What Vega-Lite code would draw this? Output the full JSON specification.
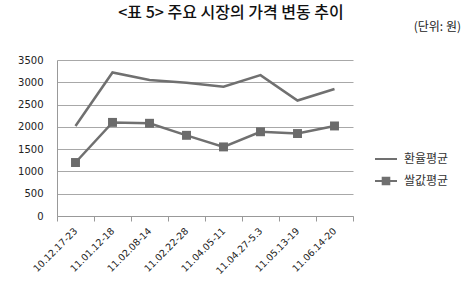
{
  "$schema": "https://vega.github.io/schema/vega-lite/v6.json",
  "padding": {"left": 17, "top": 5, "right": 0, "bottom": 0},
  "background": "white",
  "title": {"text": "<표 5> 주요 시장의 가격 변동 추이", "font": "Noto Sans CJK KR", "fontSize": 16, "fontWeight": 500, "color": "#111", "anchor": "middle", "frame": "group", "dx": 26, "offset": 0},
  "config": {
    "view": {"stroke": null},
    "concat": {"spacing": 0},
    "axis": {"labelFont": "DejaVu Sans", "labelFontSize": 10, "labelColor": "#222", "domainColor": "#999", "tickColor": "#999", "gridColor": "#a8a8a8", "title": null}
  },
  "vconcat": [
    {
      "width": 296,
      "height": 156,
      "title": {"text": "(단위: 원)", "anchor": "end", "frame": "group", "dx": 108, "fontSize": 12, "font": "Noto Sans CJK KR", "fontWeight": "normal", "color": "#222", "offset": 21},
      "data": {"values": [
        {"date": "10.12.17-23", "series": "환율평균", "value": 2020},
        {"date": "11.01.12-18", "series": "환율평균", "value": 3220},
        {"date": "11.02.08-14", "series": "환율평균", "value": 3050},
        {"date": "11.02.22-28", "series": "환율평균", "value": 2990},
        {"date": "11.04.05-11", "series": "환율평균", "value": 2900},
        {"date": "11.04.27-5.3", "series": "환율평균", "value": 3160},
        {"date": "11.05.13-19", "series": "환율평균", "value": 2590},
        {"date": "11.06.14-20", "series": "환율평균", "value": 2850},
        {"date": "10.12.17-23", "series": "쌀값평균", "value": 1200},
        {"date": "11.01.12-18", "series": "쌀값평균", "value": 2100},
        {"date": "11.02.08-14", "series": "쌀값평균", "value": 2080},
        {"date": "11.02.22-28", "series": "쌀값평균", "value": 1810},
        {"date": "11.04.05-11", "series": "쌀값평균", "value": 1550},
        {"date": "11.04.27-5.3", "series": "쌀값평균", "value": 1890},
        {"date": "11.05.13-19", "series": "쌀값평균", "value": 1850},
        {"date": "11.06.14-20", "series": "쌀값평균", "value": 2020}
      ]},
      "encoding": {
        "x": {"field": "date", "type": "nominal", "sort": null,
          "scale": {"type": "band", "paddingInner": 0, "paddingOuter": 0},
          "axis": {"labelAngle": -45, "labelAlign": "right", "labelBaseline": "middle", "tickBand": "extent", "tickSize": 5, "labelPadding": 8, "grid": false, "labelFont": "DejaVu Sans", "labelFontSize": 9.5}},
        "y": {"field": "value", "type": "quantitative",
          "scale": {"domain": [0, 3500], "nice": false},
          "axis": {"values": [0, 500, 1000, 1500, 2000, 2500, 3000, 3500], "format": "d", "ticks": false, "labelPadding": 14, "grid": true, "labelFont": "DejaVu Sans", "labelFontSize": 10}}
      },
      "layer": [
        {
          "mark": {"type": "line", "strokeWidth": 2.5},
          "encoding": {
            "color": {"field": "series", "type": "nominal",
              "scale": {"domain": ["환율평균", "쌀값평균"], "range": ["#707070", "#707070"]},
              "legend": {"orient": "none", "legendX": 317, "legendY": 87, "title": null, "padding": 0,
                "labelFont": "Noto Sans CJK KR", "labelFontSize": 12, "labelColor": "#333", "labelOffset": 6,
                "symbolSize": 484, "rowPadding": 4,
                "encode": {"symbols": {"update": {
                  "shape": {"signal": "datum.value === '쌀값평균' ? 'M-1,0H1M-0.3,-0.3H0.3V0.3H-0.3Z' : 'M-1,0H1'"},
                  "fill": {"value": "#707070"},
                  "stroke": {"value": "#707070"},
                  "strokeWidth": {"value": 2},
                  "opacity": {"value": 1}
                }}}}
            }
          }
        },
        {
          "transform": [{"filter": "datum.series === '쌀값평균'"}],
          "mark": {"type": "point", "shape": "square", "filled": true, "size": 80, "opacity": 1, "color": "#6b6b6b"},
          "encoding": {}
        }
      ]
    }
  ]
}
